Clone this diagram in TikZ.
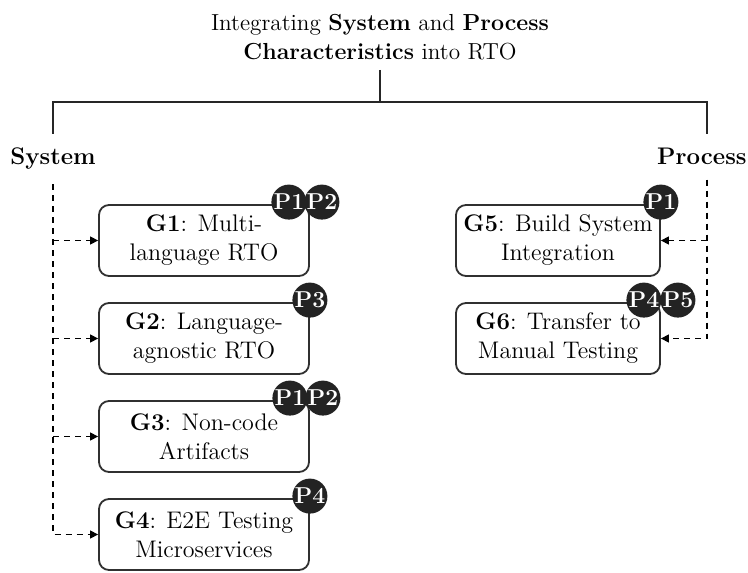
\documentclass[tikz,border=0pt]{standalone}
\usetikzlibrary{arrows.meta}
\definecolor{boxline}{HTML}{303030}
\definecolor{badge}{HTML}{232323}
\begin{document}
\begin{tikzpicture}[x=0.5pt,y=-0.5pt,
  every node/.style={font=\fontsize{12}{14.5}\selectfont},
  goalbox/.style={draw=boxline, line width=0.9pt, rounded corners=5pt, minimum width=105pt, minimum height=35.5pt, align=center, inner sep=0pt},
  pbadge/.style={circle, fill=badge, text=white, font=\fontsize{11.5}{14}\selectfont\bfseries, minimum size=17.5pt, inner sep=0pt},
  tree/.style={line width=0.9pt, draw=black!85},
  link/.style={dash pattern=on 3pt off 2.5pt, line width=0.7pt, -{Triangle[length=4pt,width=4pt]}},
  cat/.style={font=\fontsize{12}{14.5}\selectfont\bfseries, inner xsep=0pt, inner ysep=7pt}
]
\useasboundingbox (0,0) rectangle (748,572);

\node (title) [align=center, inner xsep=0pt, inner ysep=5pt, font=\fontsize{11.6}{14.2}\selectfont] at (380,37) {Integrating \textbf{System} and \textbf{Process}\\ \textbf{Characteristics} into RTO};
\coordinate (bar) at (380,102);
\coordinate (pcol) at (707,0);
\node[cat, anchor=base] (sys) at (53,165) {System};
\node[cat, anchor=base east] (proc) at (747,165) {Process};
\draw[tree] (title.south) -- (bar);
\draw[tree] (sys.north) |- (bar) -| (pcol |- proc.north);

\node[goalbox] (g1) at (204,240.5) {\textbf{G1}: Multi-\\language RTO};
\node[goalbox] (g2) at (204,338.5) {\textbf{G2}: Language-\\agnostic RTO};
\node[goalbox] (g3) at (204,436.5) {\textbf{G3}: Non-code\\Artifacts};
\node[goalbox] (g4) at (204,534.5) {\textbf{G4}: E2E Testing\\Microservices};
\node[goalbox, minimum width=102pt] (g5) at (558,240.5) {\textbf{G5}: Build System\\Integration};
\node[goalbox, minimum width=102pt] (g6) at (558,338.5) {\textbf{G6}: Transfer to\\Manual Testing};

\node[pbadge] (b1a) at ([xshift=-10.5pt, yshift=1pt]g1.north east) {P1};
\node[pbadge] (b1b) at ([xshift=6pt, yshift=1pt]g1.north east) {P2};
\node[pbadge] (b2a) at ([yshift=1pt]g2.north east) {P3};
\node[pbadge] (b3a) at ([xshift=-10pt, yshift=1pt]g3.north east) {P1};
\node[pbadge] (b3b) at ([xshift=6.5pt, yshift=1pt]g3.north east) {P2};
\node[pbadge] (b4a) at ([yshift=1pt]g4.north east) {P4};
\node[pbadge] (b5a) at ([yshift=1pt]g5.north east) {P1};
\node[pbadge] (b6a) at ([xshift=-8.5pt, yshift=1pt]g6.north east) {P4};
\node[pbadge] (b6b) at ([xshift=8.5pt, yshift=1pt]g6.north east) {P5};

\draw[link] (sys.south) |- (g4.west);
\draw[link] (sys.south |- g1.west) -- (g1.west);
\draw[link] (sys.south |- g2.west) -- (g2.west);
\draw[link] (sys.south |- g3.west) -- (g3.west);
\draw[link] (pcol |- proc.south) |- (g6.east);
\draw[link] (pcol |- g5.east) -- (g5.east);
\end{tikzpicture}
\end{document}
